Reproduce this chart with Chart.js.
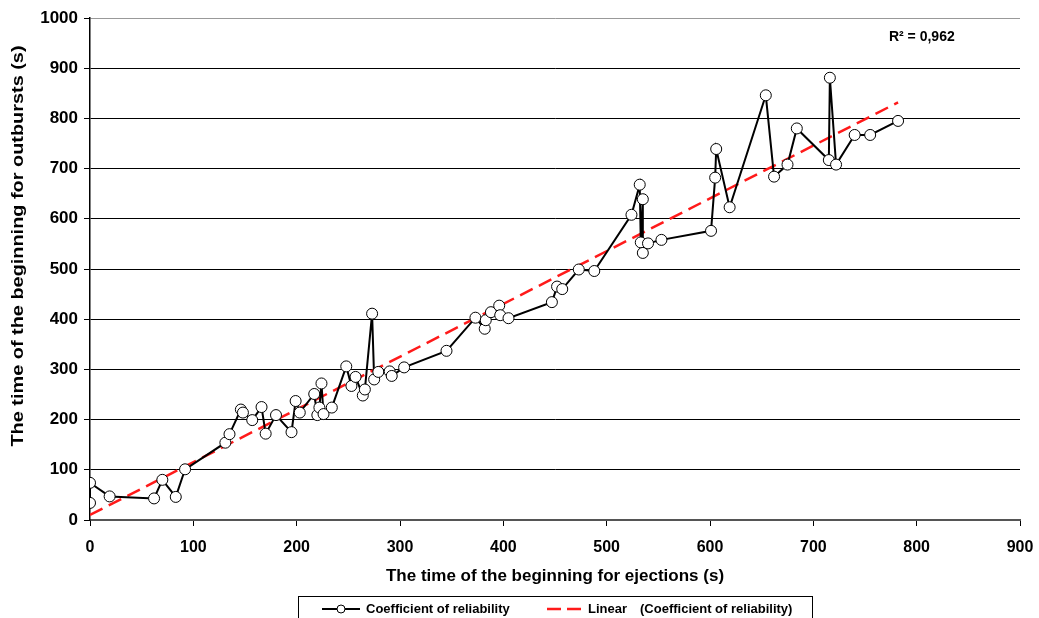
<!DOCTYPE html>
<html>
<head>
<meta charset="utf-8">
<script src="https://cdn.jsdelivr.net/npm/chart.js@4"></script>
<style>
  html, body { margin: 0; padding: 0; background: #fff; }
  canvas { display: block; }
</style>
</head>
<body>
<canvas id="chart" width="1039" height="618"></canvas>
<script>
// Ejection start time (s) vs outburst start time (s)
const ejectionTimes = [
    0, 0, 19, 62, 70, 83, 92, 131, 135, 146,
    148, 157, 166, 170, 180, 195, 199, 203, 217, 220,
    222, 224, 226, 234, 248, 253, 257, 264, 266, 273,
    275, 279, 290, 292, 304, 345, 373, 382, 383, 388,
    396, 397, 405, 447, 452, 457, 473, 488, 524, 532,
    533, 535, 535, 540, 553, 601, 605, 606, 619, 654,
    662, 675, 684, 715, 716, 722, 740, 755, 782
];
const outburstTimes = [
    34, 74, 47, 43, 80, 46, 101, 154, 171, 220,
    214, 199, 225, 172, 209, 175, 237, 214, 251, 209,
    224, 272, 211, 224, 306, 267, 285, 248, 260, 411,
    280, 295, 296, 287, 304, 337, 403, 381, 398, 414,
    427, 408, 402, 434, 465, 460, 499, 496, 608, 668,
    553, 639, 532, 551, 558, 576, 682, 739, 623, 846,
    684, 708, 780, 717, 881, 708, 767, 767, 795
];

// Linear trend line ends (Excel trendline)
const trendX = [0, 782];
const trendY = [10, 832];

const seriesLabel = 'Coefficient of reliability';
const trendLabel = 'Linear';
const trendLabelTail = '(Coefficient of reliability)';
const r2Label = 'R\u00b2 = 0,962';
const xTitle = 'The time of the beginning for ejections (s)';
const yTitle = 'The time of the beginning for outbursts (s)';

const FONT = "'Liberation Sans', Arial, sans-serif";

const points = ejectionTimes.map((x, i) => ({ x: x, y: outburstTimes[i] }));
const trendPoints = trendX.map((x, i) => ({ x: x, y: trendY[i] }));

// Draws the R² note, the rotated y title and the boxed legend at the bottom
const overlayPlugin = {
    id: 'overlay',
    afterDraw(chart) {
        const { ctx, scales: { x, y } } = chart;
        ctx.save();
        ctx.fillStyle = '#000';

        // R² text, top right of the plot
        ctx.font = `bold 14px ${FONT}`;
        ctx.textAlign = 'center';
        ctx.textBaseline = 'middle';
        ctx.fillText(r2Label, x.getPixelForValue(805), y.getPixelForValue(961));

        // y axis title (stretched a bit along the text, like the original)
        ctx.save();
        ctx.translate(18, 246);
        ctx.rotate(-Math.PI / 2);
        ctx.scale(1.17, 1);
        ctx.font = `bold 17px ${FONT}`;
        ctx.fillText(yTitle, 0, 0);
        ctx.restore();

        // legend box
        ctx.strokeStyle = '#000';
        ctx.lineWidth = 1;
        ctx.strokeRect(298.5, 596.5, 514, 30);

        const ly = 609;
        // series sample: line with an open circle
        ctx.lineWidth = 2;
        ctx.beginPath();
        ctx.moveTo(322, ly);
        ctx.lineTo(360, ly);
        ctx.stroke();
        ctx.beginPath();
        ctx.arc(341, ly, 4, 0, Math.PI * 2);
        ctx.fillStyle = '#fff';
        ctx.fill();
        ctx.lineWidth = 1;
        ctx.stroke();

        // trend sample: red dashes
        ctx.strokeStyle = '#ff1a1a';
        ctx.lineWidth = 2.5;
        ctx.setLineDash([14, 6]);
        ctx.beginPath();
        ctx.moveTo(547, ly);
        ctx.lineTo(583, ly);
        ctx.stroke();
        ctx.setLineDash([]);

        ctx.fillStyle = '#000';
        ctx.font = `bold 13px ${FONT}`;
        ctx.textAlign = 'left';
        ctx.fillText(seriesLabel, 366, ly);
        ctx.fillText(trendLabel, 588, ly);
        ctx.fillText(trendLabelTail, 640, ly);

        ctx.restore();
    }
};

new Chart(document.getElementById('chart'), {
    type: 'scatter',
    data: {
        datasets: [
            {
                // [0] measured points, drawn on top
                label: seriesLabel,
                data: points,
                showLine: true,
                borderColor: '#000',
                borderWidth: 2,
                tension: 0,
                pointRadius: 5.5,
                pointBackgroundColor: '#fff',
                pointBorderColor: '#000',
                pointBorderWidth: 1
            },
            {
                // [1] linear trend, red dashed
                label: trendLabel + ' ' + trendLabelTail,
                data: trendPoints,
                showLine: true,
                borderColor: '#ff1a1a',
                borderWidth: 2.5,
                borderDash: [14, 7],
                pointRadius: 0
            }
        ]
    },
    options: {
        responsive: false,
        animation: false,
        layout: { padding: { left: 0, right: 19, top: 18, bottom: 0 } },
        plugins: {
            legend: { display: false },
            tooltip: { enabled: false }
        },
        scales: {
            x: {
                type: 'linear',
                min: 0,
                max: 900,
                // fixed height, and no extra room for the last tick label
                afterFit: (s) => { s.height = 98; s.paddingRight = 0; s.paddingLeft = 0; },
                ticks: {
                    stepSize: 100,
                    color: '#000',
                    padding: 12,
                    maxRotation: 0,
                    font: { family: FONT, size: 16, weight: 'bold' }
                },
                grid: {
                    drawOnChartArea: false,
                    tickLength: 6,
                    tickColor: '#000'
                },
                border: { color: '#555', width: 2 },
                title: {
                    display: true,
                    text: xTitle,
                    color: '#000',
                    font: { family: FONT, size: 17, weight: 'bold' },
                    padding: { top: 0, bottom: 31 }
                }
            },
            y: {
                min: 0,
                max: 1000,
                afterFit: (s) => { s.width = 90; },
                ticks: {
                    stepSize: 100,
                    color: '#000',
                    padding: 6,
                    callback: (v) => String(v),
                    font: { family: FONT, size: 17, weight: 'bold' }
                },
                grid: {
                    color: (c) => (c.tick && c.tick.value === 1000 ? '#999' : '#000'),
                    lineWidth: 1,
                    tickLength: 6,
                    tickColor: '#000'
                },
                border: { color: '#000', width: 1.5 }
            }
        }
    },
    plugins: [overlayPlugin]
});
</script>
</body>
</html>
